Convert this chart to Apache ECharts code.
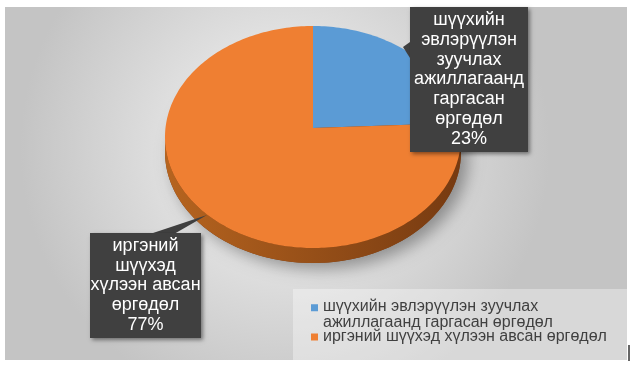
<!DOCTYPE html>
<html><head><meta charset="utf-8">
<script src="https://cdn.jsdelivr.net/npm/echarts@6/dist/echarts.min.js"></script>
<style>html,body{margin:0;padding:0;background:#fff;}#c{width:632px;height:368px;}</style>
</head><body><div id="c"></div>
<script>
// ---- data ----
const categories = ['шүүхийн эвлэрүүлэн зуучлах ажиллагаанд гаргасан өргөдөл', 'иргэний шүүхэд хүлээн авсан өргөдөл'];
const values = [23, 77];
const labelTexts = ['шүүхийн\nэвлэрүүлэн\nзуучлах\nажиллагаанд\nгаргасан\nөргөдөл', 'иргэний\nшүүхэд\nхүлээн авсан\nөргөдөл'];

// ---- styles / layout ----
const topColors = ['#5B9BD5', '#EF7F32'];
const sideColors = [['#3f78ad', '#2f5f8c'], ['#b6641f', '#763a11']];
const geo = {cx: 313, cy: 137, rx: 148, ry: 111, apexY: 128, depth: 15};
const labelBoxes = [
  {x: 410, y: 7, w: 118, h: 145, ptr: [[410, 42], [403, 47], [410, 58]]},
  {x: 90, y: 233, w: 111, h: 105, ptr: [[150, 234], [207, 215], [174, 234]]}
];
const FONT = '"Liberation Sans", Arial, sans-serif';

const total = values.reduce((a, b) => a + b, 0);
function ellPt(t, dy) { return [geo.cx + geo.rx * Math.sin(t), geo.cy - geo.ry * Math.cos(t) + (dy || 0)]; }
function arcPts(a, b, dy) {
  const n = Math.max(2, Math.ceil((b - a) / 0.02));
  const pts = [];
  for (let k = 0; k <= n; k++) pts.push(ellPt(a + (b - a) * k / n, dy));
  return pts;
}
function makeRender(i) {
  return function (params, api) {
    const v = api.value(0);
    let start = 0;
    for (let k = 0; k < i; k++) start += values[k];
    const t0 = start / total * 2 * Math.PI, t1 = (start + v) / total * 2 * Math.PI;
    const children = [];
    if (i === 0) {
      children.push({type: 'ellipse', z2: -10, shape: {cx: geo.cx, cy: geo.cy + geo.depth, rx: geo.rx, ry: geo.ry},
        style: {fill: '#7a3c12', shadowBlur: 16, shadowOffsetX: 7, shadowOffsetY: 6, shadowColor: 'rgba(0,0,0,0.35)'}});
    }
    // side band (front half)
    const a = Math.max(t0, Math.PI / 2), b = Math.min(t1, 3 * Math.PI / 2);
    if (b > a) {
      const top = arcPts(a, b, 0), bot = arcPts(a, b, geo.depth).reverse();
      children.push({type: 'polygon', z2: -5, shape: {points: top.concat(bot)},
        style: {fill: {type: 'linear', x: 0, y: 0, x2: 1, y2: 0, colorStops: [
          {offset: 0, color: sideColors[i][0]}, {offset: 1, color: sideColors[i][1]}]}}});
    }
    // top face
    children.push({type: 'polygon', z2: 0, shape: {points: [[geo.cx, geo.apexY]].concat(arcPts(t0, t1, 0))},
      style: {fill: topColors[i]}});
    // label
    const bx = labelBoxes[i];
    const pct = Math.round(v / total * 100) + '%';
    children.push({type: 'polygon', z2: 100, shape: {points: bx.ptr}, style: {fill: '#404040'}});
    children.push({type: 'rect', z2: 100, shape: {x: bx.x, y: bx.y, width: bx.w, height: bx.h},
      style: {fill: '#404040', shadowBlur: 4, shadowOffsetX: 2, shadowOffsetY: 2, shadowColor: 'rgba(0,0,0,0.45)'}});
    children.push({type: 'text', z2: 101, x: bx.x + bx.w / 2, y: bx.y + bx.h / 2,
      style: {text: labelTexts[i] + '\n' + pct, fill: '#ffffff', font: '18px ' + FONT,
        align: 'center', verticalAlign: 'middle', lineHeight: 19.7}});
    return {type: 'group', children: children};
  };
}

const chart = echarts.init(document.getElementById('c'), null, {renderer: 'canvas'});
const legendText = {color: '#404040', fontSize: 16, fontFamily: FONT, lineHeight: 16};
chart.setOption({
  animation: false,
  graphic: [
    {type: 'rect', z: -10, silent: true, shape: {x: 5, y: 7, width: 622, height: 353},
      style: {fill: {type: 'radial', x: 0.45, y: 0.4, r: 0.75, colorStops: [
        {offset: 0, color: '#f6f6f6'}, {offset: 1, color: '#c4c4c4'}]}}},
    {type: 'rect', z: -5, silent: true, shape: {x: 293, y: 289, width: 334, height: 71},
      style: {fill: 'rgba(255,255,255,0.35)'}},
    {type: 'line', z: -5, silent: true, shape: {x1: 629, y1: 345, x2: 629, y2: 361}, style: {stroke: '#333', lineWidth: 1.5}}
  ],
  legend: [
    {data: [{name: categories[0], icon: 'path://M0,0L10,0L10,10L0,10Z M0,31L0.01,31'}], left: 311, top: 299,
      itemWidth: 7, itemHeight: 22, selectedMode: false, textStyle: legendText, padding: 0,
      formatter: n => n.replace(' ажиллагаанд', '\nажиллагаанд')},
    {data: [{name: categories[1], icon: 'rect'}], left: 311, top: 329,
      itemWidth: 7, itemHeight: 7, selectedMode: false, textStyle: legendText, padding: 0}
  ],
  series: categories.map((name, i) => ({
    type: 'custom', name: name, coordinateSystem: 'none', silent: true,
    itemStyle: {color: topColors[i]},
    data: [[values[i]]],
    renderItem: makeRender(i)
  }))
});
</script></body></html>
